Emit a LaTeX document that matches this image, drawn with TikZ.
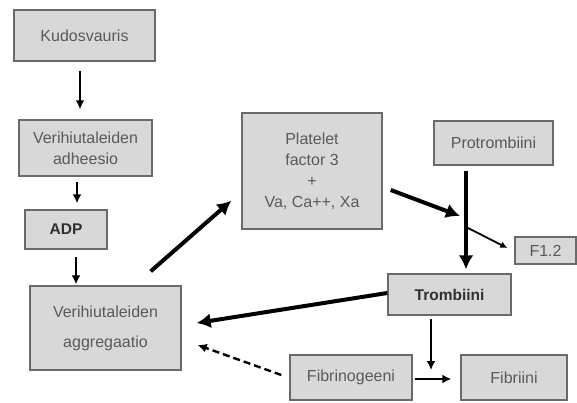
\documentclass[tikz,border=0pt]{standalone}
\usepackage{fontspec}
\setmainfont{Liberation Sans}
\usetikzlibrary{arrows.meta,calc}
\definecolor{boxfill}{HTML}{D8D8D8}
\definecolor{boxline}{HTML}{6A6A6A}
\definecolor{txt}{HTML}{5A5A5A}
\definecolor{txtb}{HTML}{303030}
\begin{document}
\begin{tikzpicture}[x=1pt,y=-1pt,
  box/.style={draw=boxline,line width=1.4pt,fill=boxfill,inner sep=0pt,align=center,
    text=txt,font=\fontsize{16}{21}\selectfont},
  boldbox/.style={box,text=txtb,font=\fontsize{15.5}{21}\selectfont\bfseries},
  arrmid/.style={line width=2.6pt,-{Latex[length=9pt,width=9pt]}},
  arrthick/.style={line width=4pt,-{Latex[length=14pt,width=15pt]}},
  arrthin/.style={line width=1.8pt,-{Latex[length=7pt,width=7pt]}},
  arrdash/.style={line width=2.4pt,dashed,dash pattern=on 7pt off 4pt,-{Latex[length=9pt,width=9pt]}}]
\useasboundingbox[fill=white] (0,0) rectangle (577,403);
\node[box,minimum width=141pt,minimum height=51pt] (kud) at (84.5,35.5) {Kudosvauris};
\node[box,minimum width=133pt,minimum height=56pt] (adh) at (85.5,148) {Verihiutaleiden\\adheesio};
\node[boldbox,minimum width=82pt,minimum height=39pt] (adp) at (66,229.5) {ADP};
\node[box,minimum width=151pt,minimum height=84pt] (agg) at (105.5,328) {Verihiutaleiden\\[9pt]aggregaatio};
\node[box,minimum width=140pt,minimum height=116pt] (pf) at (312,171) {Platelet\\factor 3\\+\\Va, Ca++, Xa};
\node[box,minimum width=119pt,minimum height=44pt] (pro) at (493.5,143) {Protrombiini};
\node[box,minimum width=61pt,minimum height=27pt] (f12) at (545.5,250.5) {F1.2};
\node[boldbox,minimum width=123pt,minimum height=41pt] (tro) at (449.5,294.5) {Trombiini};
\node[box,minimum width=122pt,minimum height=45pt] (fbg) at (351,377.5) {Fibrinogeeni};
\node[box,minimum width=106pt,minimum height=45pt] (fbr) at (514,377.5) {Fibriini};
\coordinate (j1) at (460,216);
\coordinate (j2) at (468,228);
\coordinate (j3) at (431,370);
% arrows
\draw[arrmid] ($(kud.south)+(-4.5,9)$) -- ($(adh.north)+(-5.5,-10)$);
\draw[arrmid] ($(adh.south)+(-8.5,5)$) -- ($(adp.north)+(11,-6)$);
\draw[arrmid] ($(adp.south)+(10,7)$) -- ($(agg.north)+(-29.5,-1)$);
\draw[arrthick] ($(agg.north east)+(-31,-14)$) -- ($(pf.south west)+(-10,-29)$);
\draw[arrthick] ($(pf.east)+(8,19)$) -- (j1);
\draw[arrthick] ($(pro.south)+(-27.5,5)$) -- ($(tro.north)+(16.5,-4)$);
\draw[arrthin] (j2) -- ($(f12.west)+(-7,-2.5)$);
\draw[arrthick] ($(tro.west)+(0,-1.5)$) -- ($(agg.east)+(15,-5)$);
\draw[arrmid] ($(tro.south)+(-18.5,3)$) -- (j3);
\draw[arrmid] ($(fbg.east)+(2,1.5)$) -- ($(fbr.west)+(-9,1.5)$);
\draw[arrdash] ($(fbg.west)+(-8,-2.5)$) -- ($(agg.east)+(16,17)$);
\end{tikzpicture}
\end{document}
